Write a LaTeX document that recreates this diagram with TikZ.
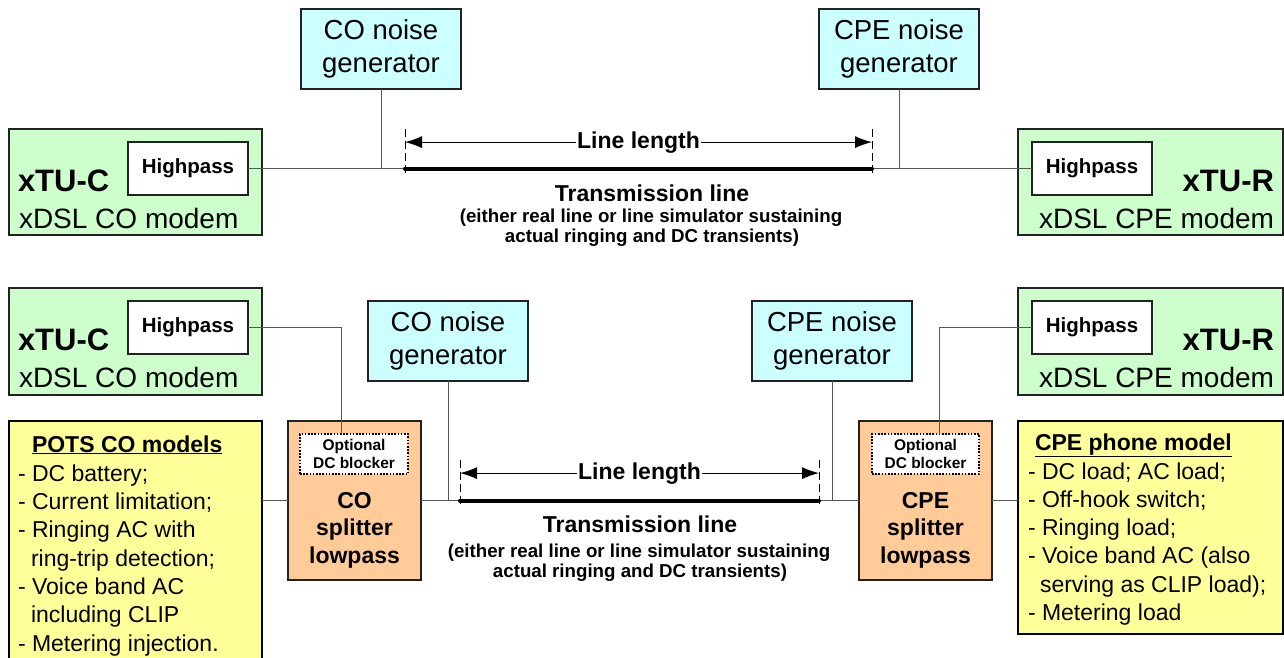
\documentclass[tikz,border=0pt]{standalone}
\usepackage{fontspec}
\setmainfont{Liberation Sans}
\usetikzlibrary{arrows.meta}
\definecolor{mgreen}{HTML}{CCFFCC}
\definecolor{mcyan}{HTML}{CCFFFF}
\definecolor{myellow}{HTML}{FFFF99}
\definecolor{mpeach}{HTML}{FFCC99}
\definecolor{wirec}{HTML}{555555}
\definecolor{edgec}{HTML}{222222}
\newcommand\ft[2]{\fontsize{#1}{#2}\selectfont}
\begin{document}
\begin{tikzpicture}[x=1pt,y=-1pt,
  blk/.style={draw=edgec, line width=1.2pt, inner sep=0pt, outer sep=0pt, anchor=north west},
  heavy/.style={draw=black, line width=2.6pt, inner sep=0pt, outer sep=0pt, anchor=north west, fill=myellow},
  dotbox/.style={draw=black, line width=1.1pt, dash pattern=on 1.6pt off 1.6pt, fill=white, inner sep=0pt, outer sep=0pt, anchor=north west, align=center, font=\ft{15.5}{18}\bfseries},
  wire/.style={draw=wirec, line width=0.9pt},
  tline/.style={line width=4pt, line cap=round},
  tickline/.style={line width=1pt, dash pattern=on 8pt off 4pt},
  dimarrow/.style={line width=1pt, -{Latex[length=17pt,width=12pt]}},
  txt/.style={inner sep=0pt, outer sep=0pt, anchor=base west},
  ngfont/.style={font=\ft{27.5}{33}, align=center},
  bigb/.style={font=\ft{31}{33}\bfseries},
  bigr/.style={font=\ft{28}{33}},
  hpfont/.style={font=\ft{20.5}{24}\bfseries},
  listf/.style={font=\ft{23}{28}},
  midb/.style={font=\ft{23}{28}\bfseries},
  smallb/.style={font=\ft{18.7}{20}\bfseries},
]
\useasboundingbox (0,0) rectangle (1284,657);
\clip (0,0) rectangle (1284,657);

% ================= TOP =================
\node[blk, fill=mcyan, minimum width=160, minimum height=80, ngfont] (ngC) at (301,9) {CO noise\\generator};
\node[blk, fill=mcyan, minimum width=160, minimum height=80, ngfont] (ngR) at (819,9) {CPE noise\\generator};

\node[blk, fill=mgreen, minimum width=253, minimum height=106] (modC) at (9,129) {};
\node[blk, fill=white, minimum width=120, minimum height=53, hpfont] (hpC) at (128,142) {Highpass};
\node[txt, bigb] (tC) at (18,191) {xTU-C};
\node[txt, bigr] (mC) at (19,228) {xDSL CO modem};

\node[blk, fill=mgreen, minimum width=265, minimum height=106] (modR) at (1018,129) {};
\node[blk, fill=white, minimum width=120, minimum height=53, hpfont] (hpR) at (1032,142) {Highpass};
\node[txt, bigb, anchor=base east] (tR) at (1274,191) {xTU-R};
\node[txt, bigr, anchor=base east] (mR) at (1274,228) {xDSL CPE modem};

\coordinate (L1) at (405,168.5);
\coordinate (R1) at (872,168.5);
\draw[wire] (hpC.east) -- (L1);
\draw[wire] (R1) -- (hpR.west);
\draw[wire] (ngC.south) -- (ngC.south |- L1);
\draw[wire] (ngR.south) -- (ngR.south |- R1);
\draw[tickline] ([yshift=40pt]L1) -- ([yshift=-6pt]L1);
\draw[tickline] ([yshift=40pt]R1) -- ([yshift=-6pt]R1);
\draw[tline] (L1) -- (R1);
\node[txt, midb, anchor=base, inner xsep=1pt] (llT) at (638.5,148) {Line length};
\draw[dimarrow] (llT.west) -- (llT.west -| L1);
\draw[dimarrow] (llT.east) -- (llT.east -| R1);
\node[txt, midb, anchor=base] (trT) at (652,201) {Transmission line};
\node[txt, smallb, anchor=base] (e1T) at (651,222) {(either real line or line simulator sustaining};
\node[txt, smallb, anchor=base] (e2T) at (652,242) {actual ringing and DC transients)};

% ================= BOTTOM =================
\node[blk, fill=mgreen, minimum width=253, minimum height=107] (modC2) at (9,288) {};
\node[blk, fill=white, minimum width=120, minimum height=53, hpfont] (hpC2) at (128,301) {Highpass};
\node[txt, bigb] (tC2) at (18,350) {xTU-C};
\node[txt, bigr] (mC2) at (19,387) {xDSL CO modem};

\node[blk, fill=mgreen, minimum width=265, minimum height=107] (modR2) at (1018,288) {};
\node[blk, fill=white, minimum width=120, minimum height=53, hpfont] (hpR2) at (1032,301) {Highpass};
\node[txt, bigb, anchor=base east] (tR2) at (1274,350) {xTU-R};
\node[txt, bigr, anchor=base east] (mR2) at (1274,387) {xDSL CPE modem};

\node[blk, fill=mcyan, minimum width=160, minimum height=80, ngfont] (ngC2) at (368,301) {CO noise\\generator};
\node[blk, fill=mcyan, minimum width=160, minimum height=80, ngfont] (ngR2) at (752,301) {CPE noise\\generator};

% splitters
\node[blk, fill=mpeach, minimum width=133, minimum height=159] (splC) at (288,421) {};
\node[dotbox, minimum width=108, minimum height=40] (dbC) at (300,434) {Optional\\DC blocker};
\node[txt, midb, anchor=base] (sC1) at (354.5,508) {CO};
\node[txt, midb, anchor=base] (sC2) at (354.5,535) {splitter};
\node[txt, midb, anchor=base] (sC3) at (354.5,563) {lowpass};

\node[blk, fill=mpeach, minimum width=133, minimum height=159] (splR) at (859,421) {};
\node[dotbox, minimum width=107, minimum height=40] (dbR) at (872,434) {Optional\\DC blocker};
\node[txt, midb, anchor=base] (sR1) at (925.5,508) {CPE};
\node[txt, midb, anchor=base] (sR2) at (925.5,535) {splitter};
\node[txt, midb, anchor=base] (sR3) at (925.5,563) {lowpass};

% POTS CO models
\node[heavy, minimum width=253, minimum height=260] (pots) at (9,421) {};
\node[txt, midb] (p0) at (32,452) {\underline{POTS CO models}};
\node[txt, listf] (p1) at (18,481) {- DC battery;};
\node[txt, listf] (p2) at (18,509) {- Current limitation;};
\node[txt, listf] (p3) at (18,537) {- Ringing AC with};
\node[txt, listf] (p4) at (31,566) {ring-trip detection;};
\node[txt, listf] (p5) at (18,594) {- Voice band AC};
\node[txt, listf] (p6) at (31,622) {including CLIP};
\node[txt, listf] (p7) at (18,651) {- Metering injection.};

% CPE phone model
\node[heavy, minimum width=265, minimum height=213] (phone) at (1018,421) {};
\node[txt, midb] (c0) at (1035,450) {\underline{CPE phone model}};
\node[txt, listf] (c1) at (1028,479) {- DC load; AC load;};
\node[txt, listf] (c2) at (1028,507) {- Off-hook switch;};
\node[txt, listf] (c3) at (1028,535) {- Ringing load;};
\node[txt, listf] (c4) at (1028,563) {- Voice band AC (also};
\node[txt, listf] (c5) at (1040,592) {serving as CLIP load);};
\node[txt, listf] (c6) at (1028,620) {- Metering load};

% wires
\coordinate (L2) at (460,500.5);
\coordinate (R2) at (819,500.5);
\draw[wire] (hpC2.east) -| ([xshift=41pt]dbC.north west);
\draw[wire] (hpR2.west) -| ([xshift=67pt]dbR.north west);
\draw[wire] (pots.east |- splC.west) -- (splC.west);
\draw[wire] (splC.east) -- (L2);
\draw[wire] (R2) -- (splR.west);
\draw[wire] (splR.east) -- (phone.west |- splR.east);
\draw[wire] (ngC2.south) -- (ngC2.south |- L2);
\draw[wire] (ngR2.south) -- (ngR2.south |- R2);
\draw[tickline] ([yshift=41pt]L2) -- ([yshift=-6pt]L2);
\draw[tickline] ([yshift=41pt]R2) -- ([yshift=-6pt]R2);
\draw[tline] (L2) -- (R2);
\node[txt, midb, anchor=base, inner xsep=1pt] (llB) at (639.5,479) {Line length};
\draw[dimarrow] (llB.west) -- (llB.west -| L2);
\draw[dimarrow] (llB.east) -- (llB.east -| R2);
\node[txt, midb, anchor=base] (trB) at (640,532) {Transmission line};
\node[txt, smallb, anchor=base] (e1B) at (639,557) {(either real line or line simulator sustaining};
\node[txt, smallb, anchor=base] (e2B) at (640,577) {actual ringing and DC transients)};
\end{tikzpicture}
\end{document}
